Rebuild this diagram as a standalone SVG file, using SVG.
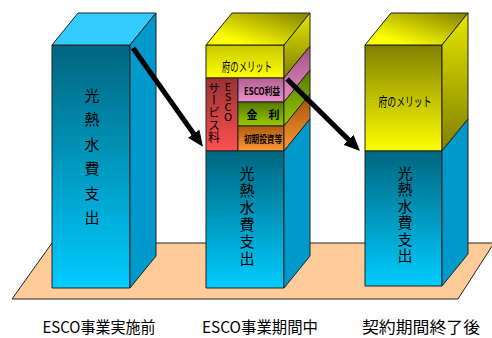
<svg xmlns="http://www.w3.org/2000/svg" width="492" height="338" viewBox="0 0 492 338">
<defs>
<linearGradient id="gCyan" x1="0" y1="0" x2="0" y2="1"><stop offset="0" stop-color="#006680"/><stop offset="1" stop-color="#00CCFF"/></linearGradient>
<linearGradient id="gYel" x1="0" y1="0" x2="0" y2="1"><stop offset="0" stop-color="#808000"/><stop offset="1" stop-color="#FFFF00"/></linearGradient>
<linearGradient id="gYelM" x1="0" y1="0" x2="0" y2="1"><stop offset="0" stop-color="#C8C800"/><stop offset="1" stop-color="#FFFF00"/></linearGradient>
<linearGradient id="gYelTop" x1="0" y1="1" x2="1" y2="0"><stop offset="0.2" stop-color="#FFFF00"/><stop offset="1" stop-color="#808000"/></linearGradient>
<linearGradient id="gYelSide" x1="0" y1="0" x2="0" y2="1"><stop offset="0" stop-color="#E6E600"/><stop offset="1" stop-color="#808000"/></linearGradient>
<linearGradient id="gRed" x1="0" y1="0" x2="0" y2="1"><stop offset="0" stop-color="#993333"/><stop offset="1" stop-color="#FF5050"/></linearGradient>
<linearGradient id="gPink" x1="0" y1="0" x2="0" y2="1"><stop offset="0" stop-color="#B06090"/><stop offset="1" stop-color="#F090D0"/></linearGradient>
<linearGradient id="gGreen" x1="0" y1="0" x2="0" y2="1"><stop offset="0" stop-color="#557700"/><stop offset="1" stop-color="#99CC00"/></linearGradient>
<linearGradient id="gOrange" x1="0" y1="0" x2="0" y2="1"><stop offset="0" stop-color="#B05A10"/><stop offset="1" stop-color="#FF9933"/></linearGradient>
<linearGradient id="gPinkS" x1="0" y1="1" x2="0" y2="0"><stop offset="0" stop-color="#E890C8"/><stop offset="1" stop-color="#A05080"/></linearGradient>
<linearGradient id="gGreenS" x1="0" y1="1" x2="0" y2="0"><stop offset="0" stop-color="#99CC00"/><stop offset="1" stop-color="#557700"/></linearGradient>
<linearGradient id="gOrangeS" x1="0" y1="1" x2="0" y2="0"><stop offset="0" stop-color="#FF9933"/><stop offset="1" stop-color="#A05010"/></linearGradient>
<marker id="ah" markerUnits="userSpaceOnUse" markerWidth="17" markerHeight="14" refX="4" refY="7" orient="auto"><path d="M0,0 L16,7 L0,14 z" fill="#000"/></marker>
</defs>
<style>
.e{stroke:#222;stroke-width:1;stroke-linejoin:round}
.side{fill:#0099CC}
.topc{fill:#33CCFF}
.t{font-family:"Noto Sans CJK JP","Noto Sans",sans-serif;fill:#000;text-anchor:middle}
.lbl{font-size:16px}
.v{font-size:15px;writing-mode:vertical-rl;text-orientation:upright}
.b{font-weight:bold}
.conn{stroke:#000;stroke-width:5;fill:none;marker-end:url(#ah)}
</style>
<g id="floor"><polygon class="e" points="12,299 52,243 494,243 458,299" fill="#FFCC99"/></g>
<g id="col-before">
<rect class="e" x="52" y="45" width="78" height="243" fill="url(#gCyan)"/>
<polygon class="e topc" points="52,45 78,13 156,13 130,45"/>
<polygon class="e side" points="130,45 156,13 156,256 130,288"/>
<text class="t v" x="92" y="161" letter-spacing="9.4">光熱水費支出</text>
</g>
<g id="col-during">
<rect class="e" x="206" y="45" width="78" height="33" fill="url(#gYelM)"/>
<polygon class="e" points="206,45 232,13 310,13 284,45" fill="url(#gYelTop)"/>
<polygon class="e" points="284,45 310,13 310,46 284,78" fill="url(#gYelSide)"/>
<rect class="e" x="206" y="78" width="32" height="73" fill="url(#gRed)"/>
<rect class="e" x="238" y="78" width="46" height="24" fill="url(#gPink)"/>
<rect class="e" x="238" y="102" width="46" height="24" fill="url(#gGreen)"/>
<rect class="e" x="238" y="126" width="46" height="25" fill="url(#gOrange)"/>
<polygon class="e" points="284,78 310,46 310,70 284,102" fill="url(#gPinkS)"/>
<polygon class="e" points="284,102 310,70 310,94 284,126" fill="url(#gGreenS)"/>
<polygon class="e" points="284,126 310,94 310,119 284,151" fill="url(#gOrangeS)"/>
<rect class="e" x="206" y="151" width="78" height="137" fill="url(#gCyan)"/>
<polygon class="e side" points="284,151 310,119 310,256 284,288"/>
<text class="t" font-size="13" x="247" y="71" textLength="50" lengthAdjust="spacingAndGlyphs">府のメリット</text>
<text class="t v" style="font-size:11px" x="228" y="101" letter-spacing="-1">ESCO</text>
<text class="t v" style="font-size:12px" x="214" y="113" letter-spacing="0.3">サービス料</text>
<text class="t b" font-size="10" x="262" y="95" textLength="36" lengthAdjust="spacingAndGlyphs">ESCO利益</text>
<text class="t b" font-size="11" x="263" y="119">金　利</text>
<text class="t b" font-size="10" x="263" y="143" textLength="38" lengthAdjust="spacingAndGlyphs">初期投資等</text>
<text class="t v" x="247" y="216.5" letter-spacing="2">光熱水費支出</text>
</g>
<g id="col-after">
<rect class="e" x="365" y="45" width="77" height="106" fill="url(#gYel)"/>
<polygon class="e" points="365,45 391,13 468,13 442,45" fill="url(#gYelTop)"/>
<polygon class="e" points="442,45 468,13 468,119 442,151" fill="url(#gYelSide)"/>
<rect class="e" x="365" y="151" width="77" height="135" fill="url(#gCyan)"/>
<polygon class="e side" points="442,151 468,119 468,254 442,286"/>
<text class="t" font-size="13" x="405" y="106" textLength="53" lengthAdjust="spacingAndGlyphs">府のメリット</text>
<text class="t v" x="405" y="215" letter-spacing="1.5">光熱水費支出</text>
</g>
<g id="connectors">
<line class="conn" x1="133" y1="48" x2="196" y2="137"/>
<line class="conn" x1="287" y1="79" x2="351.5" y2="142.6"/>
</g>
<g id="labels">
<text class="t lbl" x="99" y="333" textLength="113" lengthAdjust="spacingAndGlyphs">ESCO事業実施前</text>
<text class="t lbl" x="260" y="333" textLength="116" lengthAdjust="spacingAndGlyphs">ESCO事業期間中</text>
<text class="t lbl" x="421" y="333" textLength="118" lengthAdjust="spacingAndGlyphs">契約期間終了後</text>
</g>
</svg>
